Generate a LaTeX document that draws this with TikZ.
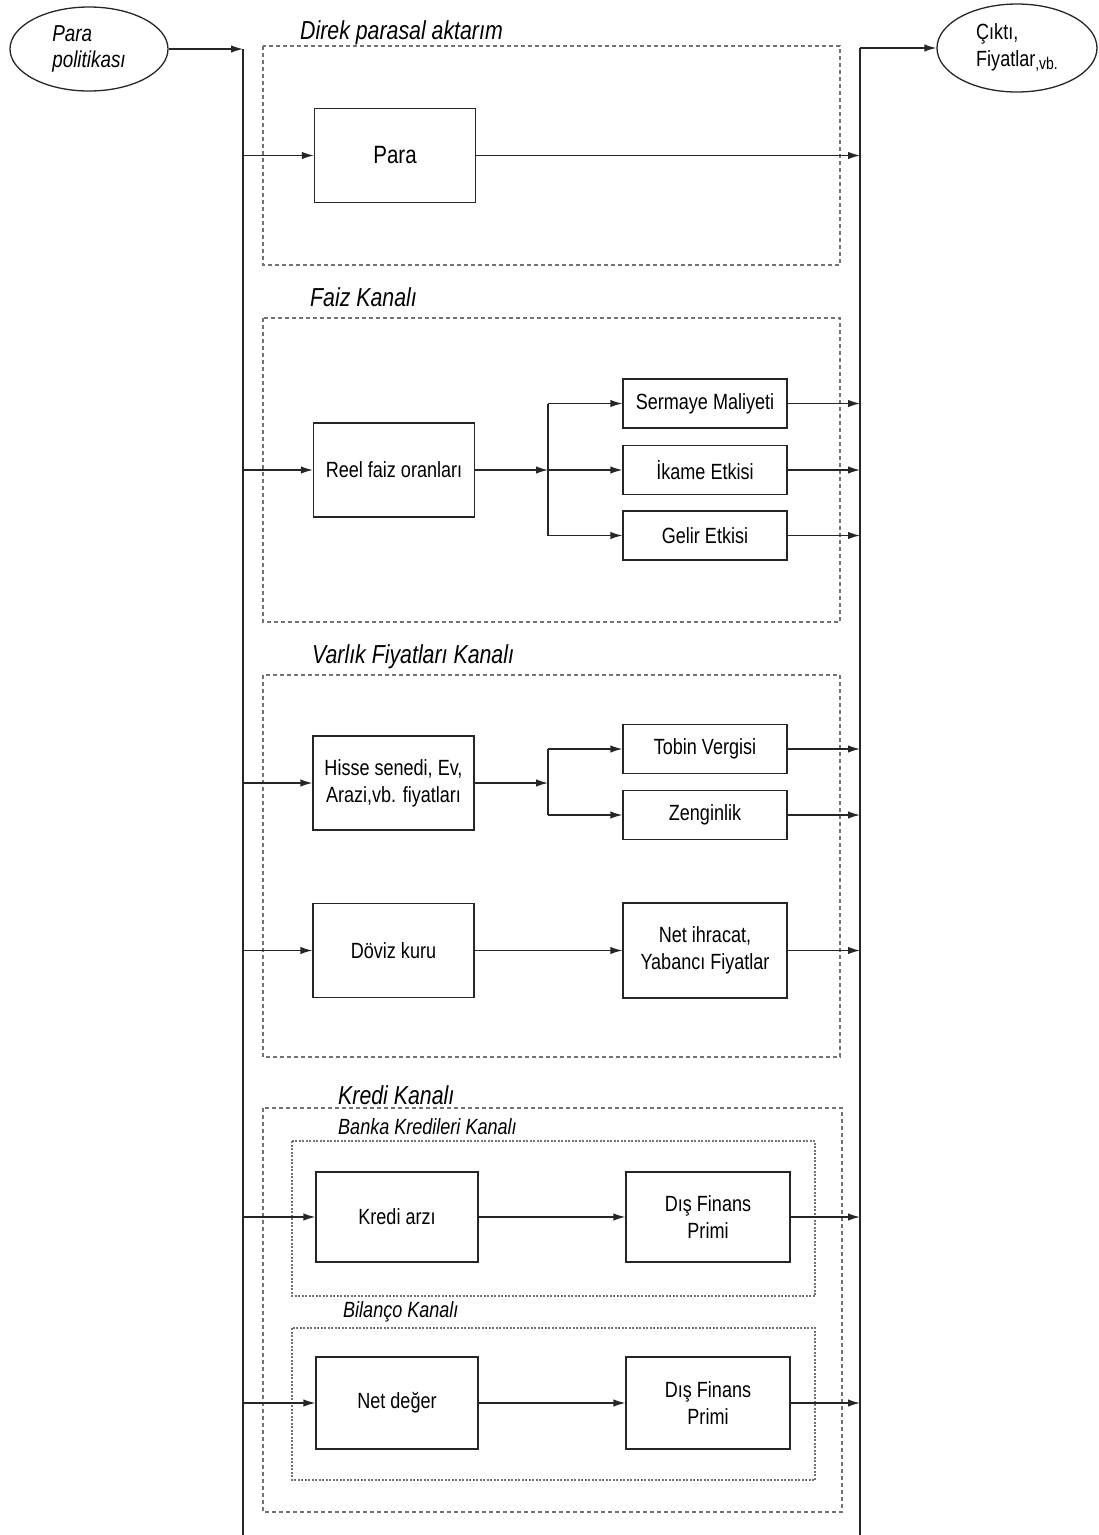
\documentclass[tikz,border=0pt]{standalone}
\usepackage{fontspec}
\setmainfont{Liberation Sans}[FakeStretch=0.82]
\usetikzlibrary{arrows.meta,shapes.geometric}
\tikzset{
 box/.style={draw=black!85, line width=1.3pt, fill=white, inner sep=0pt, font=\fontsize{22}{27}\selectfont, align=center},
 bigbox/.style={box, minimum width=161pt, minimum height=94pt},
 smallbox/.style={box, minimum width=164pt, minimum height=49pt},
 arr/.style={line width=1.3pt, draw=black!85, -{Latex[length=12pt,width=7.5pt]}},
 ln/.style={line width=1.3pt, draw=black!85},
 frame/.style={draw=black!55, line width=1.1pt, dash pattern=on 4pt off 3pt},
 innerframe/.style={draw=black!55, line width=1.1pt, dash pattern=on 2pt off 1.5pt},
 title/.style={anchor=west, font=\fontsize{26}{30}\selectfont\itshape, inner sep=0pt},
 subtitle/.style={anchor=west, font=\fontsize{22}{26}\selectfont\itshape, inner sep=0pt},
 oval/.style={ellipse, draw=black!85, line width=1.3pt, inner sep=0pt, align=left, font=\fontsize{22}{27}\selectfont},
}
\begin{document}
\begin{tikzpicture}[x=1pt,y=-1pt]
\useasboundingbox (0,0) rectangle (1099,1535);

% end ellipses
\node[oval, minimum width=158pt, minimum height=84pt, font=\fontsize{23}{26}\selectfont\itshape] (pp) at (89,49) {Para\\politikası};
\node[oval, minimum width=160pt, minimum height=88pt] (out) at (1017,48) {Çıktı,\\Fiyatlar{\fontsize{17}{18}\selectfont\raisebox{-3pt}{,vb.}}};

% buses
\coordinate (ltop) at (243,49);
\coordinate (lbot) at (243,1535);
\coordinate (rtop) at (860,48);
\coordinate (rbot) at (860,1535);
\draw[arr] (pp.east) -- (ltop);
\draw[ln] (ltop) -- (lbot);
\draw[ln] (rbot) -- (rtop);
\draw[arr] (rtop) -- (out.west);

% frames
\draw[frame] (263,46) rectangle (840,265);
\draw[frame] (263,318) rectangle (840,622);
\draw[frame] (263,675) rectangle (840,1057);
\draw[frame] (263,1108) rectangle (842,1512);
\draw[innerframe] (292,1141) rectangle (815,1296);
\draw[innerframe] (292,1328) rectangle (815,1480);

% titles
\node[title] (t1) at (300,33) {Direk parasal aktarım};
\node[title] (t2) at (310,297) {Faiz Kanalı};
\node[title] (t3) at (312,657) {Varlık Fiyatları Kanalı};
\node[title] (t4) at (338,1095) {Kredi Kanalı};
\node[subtitle] (t5) at (338,1127) {Banka Kredileri Kanalı};
\node[subtitle] (t6) at (343,1312) {Bilanço Kanalı};

% direct
\node[bigbox, font=\fontsize{25}{28}\selectfont] (para) at (395,155.5) {Para};
\draw[arr] (para.west -| ltop) -- (para.west);
\draw[arr] (para.east) -- (para.east -| rtop);

% interest channel
\node[bigbox] (reel) at (394,470) {Reel faiz oranları};
\node[smallbox] (serm) at (705,403.5) {Sermaye Maliyeti};
\node[smallbox] (ikame) at (705,470) {İkame Etkisi};
\node[smallbox] (gelir) at (705,535.5) {Gelir Etkisi};
\coordinate (j1) at (548,470);
\draw[arr] (reel.west -| ltop) -- (reel.west);
\draw[arr] (reel.east) -- (j1);
\draw[ln] (j1 |- serm.west) -- (j1 |- gelir.west);
\draw[arr] (j1 |- serm.west) -- (serm.west);
\draw[arr] (j1) -- (ikame.west);
\draw[arr] (j1 |- gelir.west) -- (gelir.west);
\draw[arr] (serm.east) -- (serm.east -| rtop);
\draw[arr] (ikame.east) -- (ikame.east -| rtop);
\draw[arr] (gelir.east) -- (gelir.east -| rtop);

% asset price channel
\node[bigbox] (hisse) at (393.5,783) {Hisse senedi, Ev,\\Arazi,vb. fiyatları};
\node[smallbox] (tobin) at (705,749) {Tobin Vergisi};
\node[smallbox] (zengin) at (705,815) {Zenginlik};
\coordinate (j2) at (548,783);
\draw[arr] (hisse.west -| ltop) -- (hisse.west);
\draw[arr] (hisse.east) -- (j2);
\draw[ln] (j2 |- tobin.west) -- (j2 |- zengin.west);
\draw[arr] (j2 |- tobin.west) -- (tobin.west);
\draw[arr] (j2 |- zengin.west) -- (zengin.west);
\draw[arr] (tobin.east) -- (tobin.east -| rtop);
\draw[arr] (zengin.east) -- (zengin.east -| rtop);

\node[bigbox] (doviz) at (393.5,950.5) {Döviz kuru};
\node[box, minimum width=164pt, minimum height=95pt] (netihr) at (705,950.5) {Net ihracat,\\Yabancı Fiyatlar};
\draw[arr] (doviz.west -| ltop) -- (doviz.west);
\draw[arr] (doviz.east) -- (netihr.west);
\draw[arr] (netihr.east) -- (netihr.east -| rtop);

% credit channel
\node[box, minimum width=162pt, minimum height=90pt] (kredi) at (397,1217) {Kredi arzı};
\node[box, minimum width=164pt, minimum height=90pt] (dis1) at (708,1217) {Dış Finans\\Primi};
\draw[arr] (kredi.west -| ltop) -- (kredi.west);
\draw[arr] (kredi.east) -- (dis1.west);
\draw[arr] (dis1.east) -- (dis1.east -| rtop);

\node[box, minimum width=162pt, minimum height=92pt] (netd) at (397,1403) {Net değer};
\node[box, minimum width=164pt, minimum height=92pt] (dis2) at (708,1403) {Dış Finans\\Primi};
\draw[arr] (netd.west -| ltop) -- (netd.west);
\draw[arr] (netd.east) -- (dis2.west);
\draw[arr] (dis2.east) -- (dis2.east -| rtop);
\end{tikzpicture}
\end{document}
